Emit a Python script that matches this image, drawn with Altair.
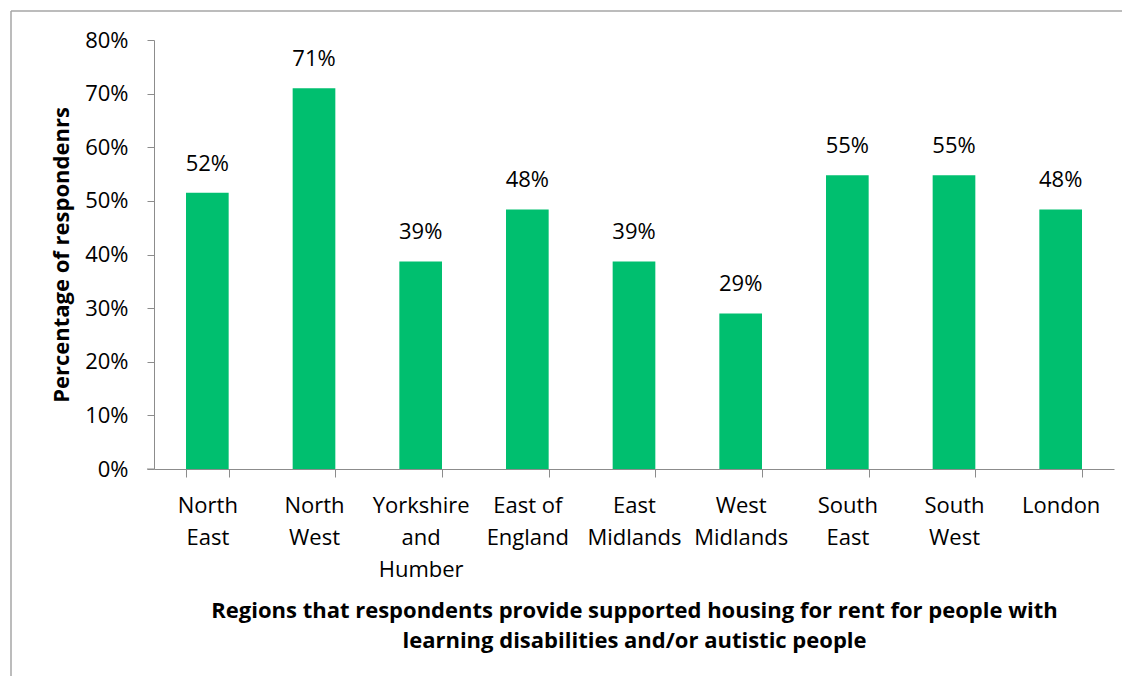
import altair as alt
import pandas as pd

regions = ["North East", "North West", "Yorkshire and Humber", "East of England",
           "East Midlands", "West Midlands", "South East", "South West", "London"]
values = [0.515, 0.71, 0.387, 0.484, 0.387, 0.29, 0.548, 0.548, 0.484]
labels = ["52%", "71%", "39%", "48%", "39%", "29%", "55%", "55%", "48%"]

df = pd.DataFrame({"region": regions, "value": values, "label": labels})

FONT = "Open Sans"
BAR = "#00BF6F"
AXIS_GREY = "#8c8c8c"

W, H = 960, 429
PAD = {"left": 146, "top": 32, "right": 8, "bottom": 207}

base = alt.Chart(df)

x_enc = alt.X(
    "region:N", sort=regions,
    scale=alt.Scale(paddingInner=0.6, paddingOuter=0.3),
    axis=alt.Axis(
        title=["Regions that respondents provide supported housing for rent for people with",
               "learning disabilities and/or autistic people"],
        titleFont=FONT, titleFontSize=22, titleFontWeight="bold", titleColor="black",
        titleLineHeight=30, titlePadding=20,
        labelFont=FONT, labelFontSize=22, labelColor="black", labelAngle=0,
        labelPadding=18, labelLineHeight=32, labelBaseline="top",
        labelExpr="datum.label == 'East of England' ? ['East of', 'England'] : split(datum.label, ' ')",
        tickBand="extent", tickSize=8, tickColor=AXIS_GREY, domainColor=AXIS_GREY,
        grid=False,
    ),
)

bars = base.mark_bar(color=BAR).encode(
    x=x_enc,
    y=alt.Y(
        "value:Q",
        scale=alt.Scale(domain=[0, 0.8], nice=False),
        axis=alt.Axis(
            title="Percentage of respondenrs",
            titleFont=FONT, titleFontSize=22, titleFontWeight="bold", titleColor="black",
            titlePadding=11,
            labelFont=FONT, labelFontSize=22, labelColor="black", labelPadding=19,
            format=".0%", values=[0, 0.1, 0.2, 0.3, 0.4, 0.5, 0.6, 0.7, 0.8],
            tickSize=7, tickColor=AXIS_GREY, domainColor=AXIS_GREY, grid=False,
        ),
    ),
)

text = base.mark_text(font=FONT, fontSize=22, color="black", baseline="bottom", dy=-17).encode(
    x=alt.X("region:N", sort=regions),
    y="value:Q",
    text="label:N",
)

one = pd.DataFrame({"a": [0]})
border_left = alt.Chart(one).mark_rule(color="#a6a6a6", strokeWidth=1.5).encode(
    x=alt.value(-143), y=alt.value(-29), y2=alt.value(H + PAD["bottom"])
)
border_top = alt.Chart(one).mark_rule(color="#a6a6a6", strokeWidth=1.5).encode(
    x=alt.value(-143), x2=alt.value(W + PAD["right"]), y=alt.value(-29)
)
zero_stub = alt.Chart(one).mark_rule(color=AXIS_GREY, strokeWidth=1).encode(
    x=alt.value(-7), x2=alt.value(0), y=alt.value(H)
)

chart = alt.layer(border_left, border_top, zero_stub, bars, text).properties(
    width=W, height=H,
    autosize=alt.AutoSizeParams(type="none"),
    padding=PAD,
    background="white",
).configure_view(strokeWidth=0, stroke="transparent")

chart.save("out.html", embed_options={"renderer": "svg", "actions": False})
